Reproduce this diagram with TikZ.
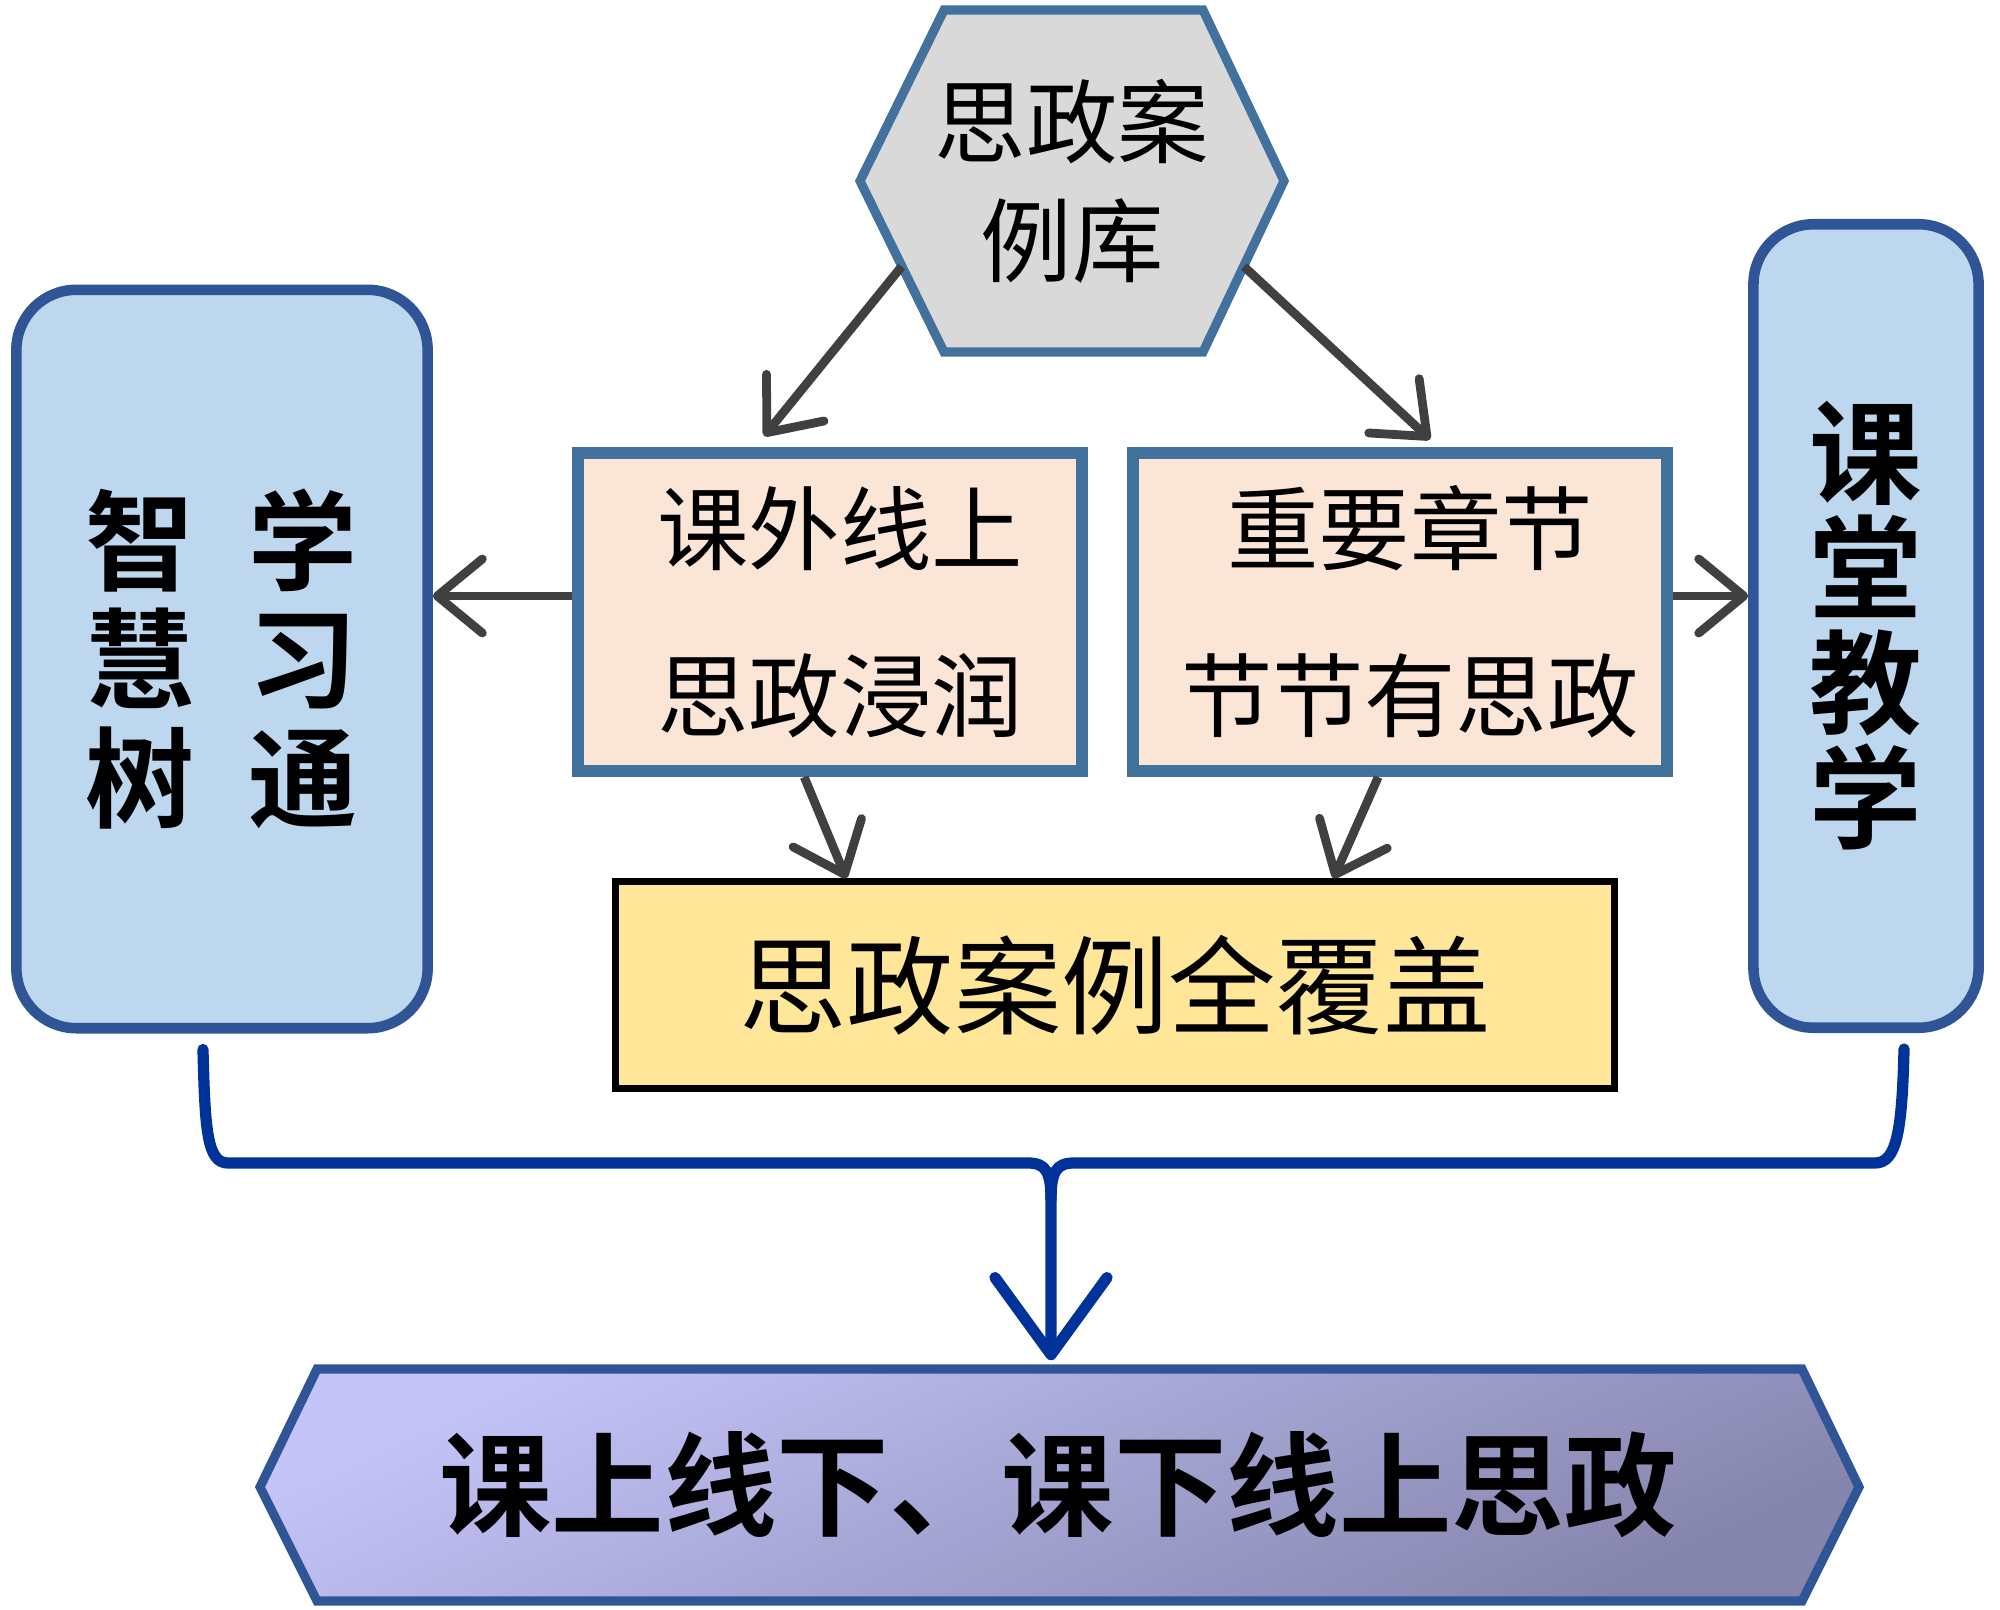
\documentclass[tikz,border=0pt]{standalone}
\usepackage{fontspec}
\newfontfamily\cjk[BoldFont={Noto Sans CJK SC Bold}]{Noto Sans CJK SC}
\usepackage{tikz}
\usetikzlibrary{arrows.meta,calc,positioning}
\definecolor{hexfill}{HTML}{D9D9D9}
\definecolor{hexline}{HTML}{41719C}
\definecolor{midfill}{HTML}{FBE5D6}
\definecolor{sidefill}{HTML}{BDD7EE}
\definecolor{sideline}{HTML}{2F5597}
\definecolor{allfill}{HTML}{FFE699}
\definecolor{arrgray}{HTML}{404040}
\definecolor{bracecol}{HTML}{003399}
\definecolor{goaltop}{RGB}{196,196,249}
\definecolor{goalbot}{RGB}{132,132,172}

\begin{document}
\begin{tikzpicture}[%
  x=0.01cm, y=-0.01cm,
  arr/.style={draw=arrgray, line width=2.5pt,
    -{Straight Barb[length=0.45cm,width=0.74cm,round]}},
  sidebox/.style={draw=sideline, fill=sidefill, line width=3pt,
    rounded corners=0.6cm, align=center},
  midbox/.style={draw=hexline, fill=midfill, line width=3.4pt, align=center,
    font=\cjk\fontsize{26}{47.5}\selectfont},
  bracket/.style={draw=bracecol, line width=3.2pt, line cap=round}]
  \useasboundingbox (0,0) rectangle (2000,1609);
  % case library
  \draw[fill=hexfill, draw=hexline, line width=2.6pt]
    (860,181) -- (944,10) -- (1203,10) -- (1284,181) -- (1203,352) -- (944,352) -- cycle;
  \node[minimum width=4.24cm, minimum height=3.42cm, align=center,
    font=\cjk\fontsize{26}{33.9}\selectfont] (lib) at (1072,181) {思政案\\例库};
  \coordinate (libl) at ($(lib.west)!0.5!(944,352)$);
  \coordinate (libr) at ($(lib.east)!0.5!(1203,352)$);
  % middle boxes
  \node[midbox, minimum width=5.03cm, minimum height=3.18cm] (onl) at (830,612)
    {\hspace*{0.2cm}课外线上\\\hspace*{0.2cm}思政浸润};
  \node[midbox, minimum width=5.34cm, minimum height=3.18cm] (onr) at (1400,612)
    {\hspace*{0.2cm}重要章节\\\hspace*{0.2cm}节节有思政};
  \node[draw=black, fill=allfill, line width=2pt, minimum width=9.99cm,
    minimum height=2.06cm, font=\cjk\fontsize{30.5}{34}\selectfont] (all) at (1115,985)
    {思政案例全覆盖};
  % side boxes
  \node[sidebox, minimum width=4.11cm, minimum height=7.38cm,
    font=\cjk\bfseries\fontsize{31}{33.6}\selectfont] (lbox) at (222,659)
    {智\hspace{0.54cm}学\\慧\hspace{0.54cm}习\\树\hspace{0.54cm}通};
  \node[sidebox, minimum width=2.25cm, minimum height=8.03cm,
    font=\cjk\bfseries\fontsize{32}{32.7}\selectfont] (rbox) at (1866,626)
    {课\\堂\\教\\学};
  % goal
  \draw[draw=sideline, line width=2.6pt, top color=goaltop, bottom color=goalbot,
    shading angle=25]
    (260,1487) -- (317,1369) -- (1802,1369) -- (1859,1487) -- (1802,1601) -- (317,1601) -- cycle;
  \node[minimum width=14.85cm, minimum height=2.32cm,
    font=\cjk\bfseries\fontsize{32}{36}\selectfont] (goal) at (1058,1485)
    {课上线下、课下线上思政};
  % arrows
  \draw[arr, shorten >=0.14cm] (libl) -- ($(onl.north west)!0.355!(onl.north east)$);
  \draw[arr, shorten >=0.11cm] (libr) -- ($(onr.north west)!0.57!(onr.north east)$);
  \draw[arr] ([yshift=0.16cm]onl.west) -- ([yshift=0.16cm]onl.west -| lbox.east);
  \draw[arr] ([yshift=0.16cm]onr.east) -- ([yshift=0.16cm]onr.east -| rbox.west);
  \draw[arr] ($(onl.south west)!0.45!(onl.south east)$) -- ($(all.north west)!0.233!(all.north east)$);
  \draw[arr] ($(onr.south west)!0.46!(onr.south east)$) -- ($(all.north west)!0.717!(all.north east)$);
  % bracket
  \coordinate (jn) at (1051,1200);
  \draw[bracket, -{Straight Barb[length=0.77cm,width=1.12cm,round]}, shorten >=0.08cm]
    ($(lbox.south)+(-0.19cm,-0.16cm)$) .. controls (205,1130) and (207,1163) .. (228,1163)
    -- (1028,1163) .. controls (1046,1163) and (1051,1172) .. (jn) -- (jn |- goal.north);
  \draw[bracket]
    ($(rbox.south)+(0.38cm,-0.16cm)$) .. controls (1902,1130) and (1897,1163) .. (1875,1163)
    -- (1074,1163) .. controls (1056,1163) and (1051,1172) .. (jn);
\end{tikzpicture}
\end{document}
